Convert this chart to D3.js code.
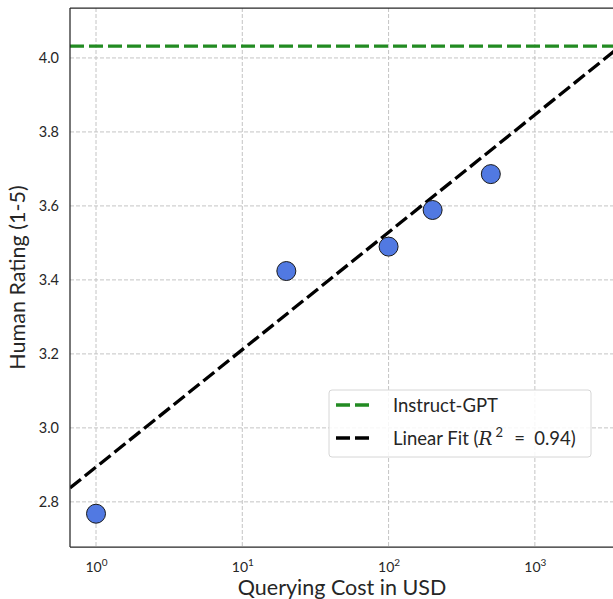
<!DOCTYPE html>
<html>
<head>
<meta charset="utf-8">
<script src="https://cdn.jsdelivr.net/npm/d3@7"></script>
<style>
  body { margin: 0; background: #fff; }
  text { font-family: "Lato", "DejaVu Sans", sans-serif; fill: #262626; }
</style>
</head>
<body>
<div id="chart"></div>
<script>
// data
var costs   = [1, 20, 100, 200, 500];
var ratings = [2.768, 3.424, 3.49, 3.589, 3.686];
var instructGpt = [4.032];
var fitCoef = [2.894, 0.3174];   // rating = a + b*log10(cost)
var yTicks = [2.8, 3.0, 3.2, 3.4, 3.6, 3.8, 4.0];
var xTicks = [1, 10, 100, 1000];
var xExp   = ["0", "1", "2", "3"];

var W = 613, H = 599;
var margin = {top: 8, right: -1, bottom: 52, left: 70};
var width = W - margin.left - margin.right,
    height = H - margin.top - margin.bottom;

var svg = d3.select("#chart").append("svg")
  .attr("width", W)
  .attr("height", H);

var g = svg.append("g")
  .attr("transform", "translate(" + margin.left + "," + margin.top + ")");

var x = d3.scaleLog().domain([0.664, 10 ** 3.541]).range([0, width]);
var y = d3.scaleLinear().domain([2.678, 4.135]).range([height, 0]);

// grid
g.selectAll(".gy").data(yTicks).enter().append("line")
  .attr("x1", 0).attr("x2", width)
  .attr("y1", function(d){ return y(d); }).attr("y2", function(d){ return y(d); })
  .attr("stroke", "#c4c4c4").attr("stroke-width", 1).attr("stroke-dasharray", "4,2");
g.selectAll(".gx").data(xTicks).enter().append("line")
  .attr("y1", 0).attr("y2", height)
  .attr("x1", function(d){ return x(d); }).attr("x2", function(d){ return x(d); })
  .attr("stroke", "#c4c4c4").attr("stroke-width", 1).attr("stroke-dasharray", "4,2");

// axes (labels only)
var yAxis = g.append("g").call(d3.axisLeft(y).tickValues(yTicks).tickSize(0).tickPadding(11).tickFormat(d3.format(".1f")));
yAxis.select(".domain").remove();
yAxis.selectAll("text").style("font-size", "14.5px").attr("fill", "#333");

var xAxis = g.append("g").attr("transform", "translate(0," + height + ")")
  .call(d3.axisBottom(x).tickValues(xTicks).tickSize(0).tickPadding(10).tickFormat(""));
xAxis.select(".domain").remove();
xAxis.selectAll(".tick").each(function(d, i){
  var t = d3.select(this).append("text").attr("y", 25).attr("text-anchor", "middle")
    .style("font-size", "14px").attr("fill", "#333");
  t.append("tspan").text("10");
  t.append("tspan").attr("dy", -6).style("font-size", "10px").text(xExp[i]);
});

// instruct-gpt reference
g.append("line")
  .attr("x1", 0).attr("x2", width)
  .attr("y1", y(instructGpt[0])).attr("y2", y(instructGpt[0]))
  .attr("stroke", "#228b22").attr("stroke-width", 3.3).attr("stroke-dasharray", "14,5");

// linear fit
svg.append("clipPath").attr("id", "clip").append("rect")
  .attr("width", width).attr("height", height);
g.append("path")
  .datum(x.domain())
  .attr("clip-path", "url(#clip)")
  .attr("fill", "none").attr("stroke", "#000").attr("stroke-width", 3.3).attr("stroke-dasharray", "14,5")
  .attr("d", d3.line()
    .x(function(d){ return x(d); })
    .y(function(d){ return y(fitCoef[0] + fitCoef[1] * Math.log10(d)); }));

// points
g.selectAll(".pt").data(costs).enter().append("circle")
  .attr("cx", function(d){ return x(d); })
  .attr("cy", function(d, i){ return y(ratings[i]); })
  .attr("r", 9.5)
  .attr("fill", "#5179e2").attr("stroke", "#1a1a1a").attr("stroke-width", 1);

// spines
g.append("line").attr("x1", 0).attr("x2", 0).attr("y1", 0).attr("y2", height).attr("stroke", "#262626").attr("stroke-width", 1.25);
g.append("line").attr("x1", 0).attr("x2", width).attr("y1", height).attr("y2", height).attr("stroke", "#262626").attr("stroke-width", 1.25);
g.append("line").attr("x1", 0).attr("x2", width).attr("y1", 0).attr("y2", 0).attr("stroke", "#262626").attr("stroke-width", 1.25);
g.append("line").attr("x1", width).attr("x2", width).attr("y1", 0).attr("y2", height).attr("stroke", "#262626").attr("stroke-width", 1.25);

// axis labels
svg.append("text").attr("x", margin.left + width / 2).attr("y", 595).attr("text-anchor", "middle")
  .style("font-size", "21.5px").text("Querying Cost in USD");
svg.append("text").attr("transform", "translate(25," + (margin.top + height / 2) + ") rotate(-90)")
  .attr("text-anchor", "middle").style("font-size", "21.5px").text("Human Rating (1-5)");

// legend
var lg = svg.append("g").attr("transform", "translate(329,390)");
lg.append("rect").attr("width", 262).attr("height", 67).attr("rx", 3)
  .attr("fill", "#fff").attr("fill-opacity", 0.85).attr("stroke", "#d6d6d6").attr("stroke-width", 1);
var items = [["Instruct-GPT", "#228b22"], ["Linear Fit", "#000"]];
items.forEach(function(it, i){
  var yy = 15 + i * 33;
  lg.append("line").attr("x1", 7).attr("x2", 42).attr("y1", yy).attr("y2", yy)
    .attr("stroke", it[1]).attr("stroke-width", 3.3).attr("stroke-dasharray", "14,5");
  var t = lg.append("text").attr("x", 64).attr("y", yy + 7).style("font-size", "18.5px").text(it[0]);
  if (i === 1) {
    t.append("tspan").text(" (");
    t.append("tspan").style("font-style", "italic").style("font-family", "DejaVu Serif").text("R");
    t.append("tspan").attr("dx", 3).attr("dy", -8).style("font-size", "13px").text("2");
    t.append("tspan").attr("dx", 2).attr("dy", 8).text("\u2002=\u20020.94)");
  }
});
</script>
</body>
</html>
